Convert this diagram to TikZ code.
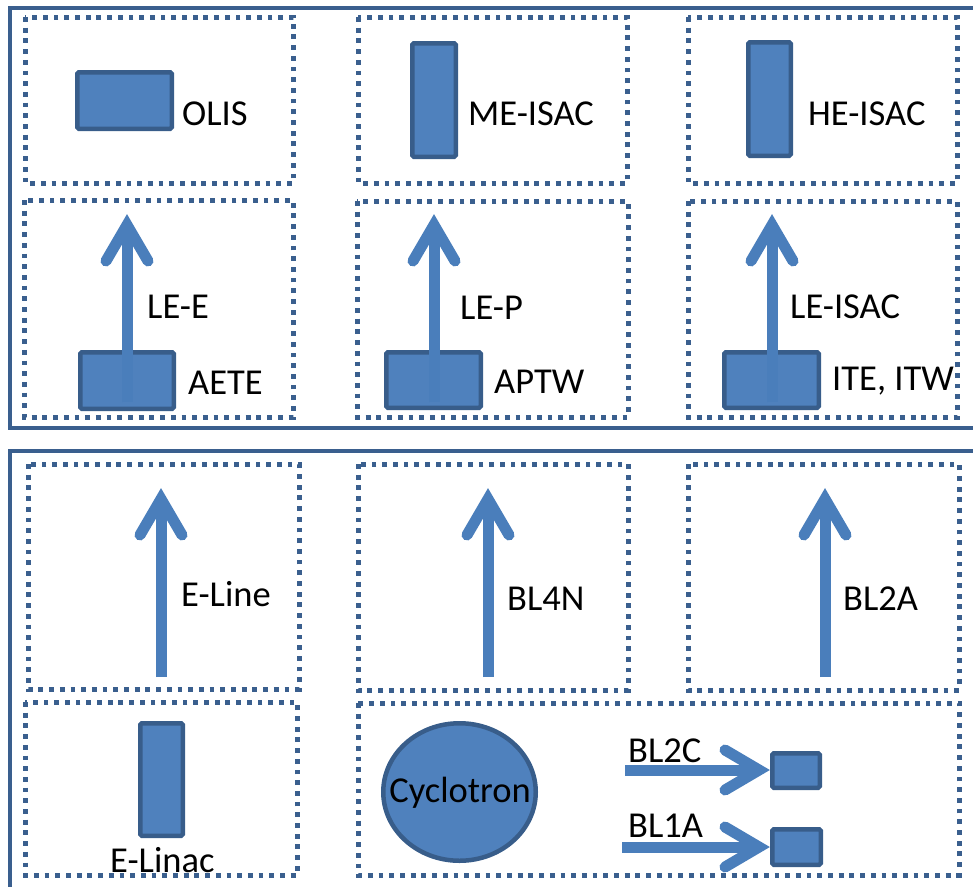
\documentclass[tikz,border=0pt]{standalone}
\usepackage{fontspec}
\setmainfont{Carlito}
\usetikzlibrary{shapes.geometric,calc}
\definecolor{framec}{HTML}{3A5F8E}
\definecolor{fillc}{HTML}{4F81BD}
\definecolor{edgec}{HTML}{385D8A}
\definecolor{beamc}{HTML}{4A7EBB}
\tikzset{
  frame/.style={draw=framec,line width=4pt},
  dotbox/.style={draw=framec,line width=5pt,dash pattern=on 4.8pt off 5.9pt},
  blk/.style={draw=edgec,fill=fillc,line width=4.5pt,rounded corners=1.5pt,inner sep=0pt,rectangle},
  lbl/.style={inner sep=0pt,anchor=base west,font=\fontsize{36.5}{40}\selectfont},
  beam/.style={draw=beamc,line width=11pt},
  beamhead/.style={draw=beamc,line width=11pt,line cap=round,line join=miter},
}
\begin{document}
\begin{tikzpicture}[x=1pt,y=-1pt]
\useasboundingbox (0,0) rectangle (973,886);
\begin{scope}
\clip (0,0) rectangle (973,886);
% outer frames
\draw[frame] (10,8) rectangle (995,428);
\draw[frame] (10,451) rectangle (995,905);
% dotted boxes
\draw[dotbox] (25,17) rectangle (293,183);
\draw[dotbox] (358,17) rectangle (627,183);
\draw[dotbox] (688,17) rectangle (957,183);
\draw[dotbox] (24,200) rectangle (293,417);
\draw[dotbox] (357,201) rectangle (628,417);
\draw[dotbox] (688,201) rectangle (957,417);
\draw[dotbox] (28,464) rectangle (299,689);
\draw[dotbox] (358,464) rectangle (628,690);
\draw[dotbox] (688,464) rectangle (959,690);
\draw[dotbox] (25,702) rectangle (297,875);
\draw[dotbox] (358,703) rectangle (959,875);
\end{scope}
% blocks
\node[blk,minimum width=94.5pt,minimum height=56.5pt] (olis) at (124.5,100.5) {};
\node[blk,minimum width=43.5pt,minimum height=113.5pt] (meisac) at (434,100) {};
\node[blk,minimum width=42.5pt,minimum height=113.5pt] (heisac) at (769.5,99) {};
\node[blk,minimum width=93.5pt,minimum height=56.5pt] (aete) at (127,380.5) {};
\node[blk,minimum width=94.5pt,minimum height=55.5pt] (aptw) at (433.5,380) {};
\node[blk,minimum width=94.5pt,minimum height=55.5pt] (ite) at (771.5,380) {};
\node[blk,minimum width=42.5pt,minimum height=112.5pt] (elinac) at (161.5,779.5) {};
\node[blk,minimum width=47.5pt,minimum height=34.5pt] (tbc) at (796,770.5) {};
\node[blk,minimum width=48.5pt,minimum height=35.5pt] (tba) at (796.5,847) {};
\node[ellipse,draw=edgec,fill=fillc,line width=4.5pt,inner sep=0pt,
      minimum width=152.5pt,minimum height=137.5pt] (cyc) at (459.5,792) {};
\node[inner sep=0pt,anchor=base,font=\fontsize{36.5}{40}\selectfont] (tcyc) at (460,802) {Cyclotron};
% beam coordinates
\coordinate (lee0) at (127,402);  \coordinate (lee1) at (127,225);
\coordinate (lep0) at (434,402);  \coordinate (lep1) at (434,225);
\coordinate (lei0) at (772,402);  \coordinate (lei1) at (772,225);
\coordinate (el0) at (161,677);   \coordinate (el1) at (161,499);
\coordinate (b4n0) at (488,677);  \coordinate (b4n1) at (488,499);
\coordinate (b2a0) at (825,677);  \coordinate (b2a1) at (825,499);
\coordinate (b2c0) at (625,770);  \coordinate (b2c1) at (759,770);
\coordinate (b1a0) at (622,847);  \coordinate (b1a1) at (759,847);
% vertical beams
\foreach \s/\t in {lee0/lee1,lep0/lep1,lei0/lei1,el0/el1,b4n0/b4n1,b2a0/b2a1}{
  \draw[beam] (\s) -- (\t);
  \draw[beamhead] ($(\t)+(-21,36)$) -- (\t) -- ($(\t)+(21,36)$);
}
% horizontal beams
\foreach \s/\t in {b2c0/b2c1,b1a0/b1a1}{
  \draw[beam] (\s) -- (\t);
  \draw[beamhead] ($(\t)+(-34,-20)$) -- (\t) -- ($(\t)+(-34,20)$);
}
% labels
\node[lbl] (tolis) at (182,125) {OLIS};
\node[lbl] (tme) at (468,125) {ME-ISAC};
\node[lbl] (the) at (808,125) {HE-ISAC};
\node[lbl] (tlee) at (147,318) {LE-E};
\node[lbl] (tlep) at (460,319) {LE-P};
\node[lbl] (tlei) at (790,318) {LE-ISAC};
\node[lbl] (taete) at (188,394) {AETE};
\node[lbl] (taptw) at (494,393) {APTW};
\node[lbl] (tite) at (832,390) {ITE, ITW};
\node[lbl] (teline) at (181,606) {E-Line};
\node[lbl] (tb4n) at (507,610) {BL4N};
\node[lbl] (tb2a) at (843,610) {BL2A};
\node[lbl] (telinac) at (110,872) {E-Linac};
\node[lbl] (tb2c) at (628,762) {BL2C};
\node[lbl] (tb1a) at (628,837) {BL1A};
\end{tikzpicture}
\end{document}
